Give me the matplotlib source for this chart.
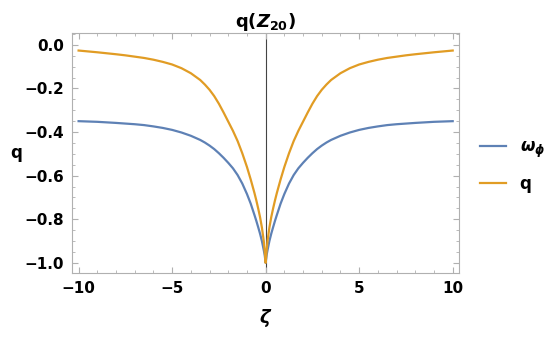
import numpy as np
import matplotlib
matplotlib.use("Agg")
import matplotlib.pyplot as plt
from matplotlib.ticker import MultipleLocator

plt.rcParams["mathtext.fontset"] = "custom"
plt.rcParams["mathtext.it"] = "DejaVu Sans:italic:bold"
plt.rcParams["mathtext.rm"] = "DejaVu Sans:bold"
plt.rcParams["mathtext.bf"] = "DejaVu Sans:bold"

# values (zeta >= 0 side; the curves are even)
zeta_half = [0, 0.05, 0.1, 0.2, 0.3, 0.4, 0.5, 0.6, 0.8, 1.0, 1.25, 1.5, 1.75, 2.0,
             2.25, 2.5, 2.75, 3.0, 3.25, 3.5, 4.0, 4.5, 5.0, 5.5, 6, 6.5, 7, 7.5,
             8, 9, 10]
omega_half = [-1.000, -0.965, -0.942, -0.900, -0.866, -0.836, -0.807, -0.780, -0.728,
              -0.684, -0.636, -0.597, -0.566, -0.541, -0.518, -0.497, -0.478, -0.462,
              -0.448, -0.436, -0.417, -0.402, -0.390, -0.381, -0.374, -0.368, -0.364,
              -0.361, -0.358, -0.353, -0.350]
q_half = [-1.000, -0.945, -0.900, -0.838, -0.790, -0.750, -0.713, -0.679, -0.617,
          -0.560, -0.497, -0.441, -0.394, -0.352, -0.310, -0.270, -0.235, -0.206,
          -0.182, -0.161, -0.130, -0.107, -0.090, -0.078, -0.068, -0.060, -0.054,
          -0.048, -0.043, -0.034, -0.026]

zeta = [-z for z in zeta_half[:0:-1]] + zeta_half
omega_phi = omega_half[:0:-1] + omega_half
q = q_half[:0:-1] + q_half

blue = "#5E81B5"
orange = "#E19C24"
frame = "#b0b0b0"

fig = plt.figure(figsize=(5.5, 3.39), dpi=100)
ax = fig.add_axes([0.131, 0.195, 0.704, 0.708])

ax.axvline(0, color="#444444", lw=0.8, zorder=1)
l1, = ax.plot(zeta, omega_phi, color=blue, lw=1.6, label=r"$\omega_\phi$", zorder=3)
l2, = ax.plot(zeta, q, color=orange, lw=1.6, label="q", zorder=3)

ax.set_xlim(-10.35, 10.35)
ax.set_ylim(-1.046, 0.055)
ax.xaxis.set_minor_locator(MultipleLocator(1))
ax.yaxis.set_minor_locator(MultipleLocator(0.05))
ax.tick_params(which="both", direction="in", top=True, right=True, color=frame)
ax.tick_params(which="major", length=4, width=0.8, labelsize=11, pad=6)
ax.tick_params(which="minor", length=2, width=0.6)
ax.set_xticks([-10, -5, 0, 5, 10])
ax.set_xticklabels(["\u221210", "\u22125", "0", "5", "10"], fontweight="bold")
ax.set_yticks([0.0, -0.2, -0.4, -0.6, -0.8, -1.0])
ax.set_yticklabels(["0.0", "\u22120.2", "\u22120.4", "\u22120.6", "\u22120.8", "\u22121.0"],
                   fontweight="bold")
for s in ax.spines.values():
    s.set_color(frame)
    s.set_linewidth(0.8)

ax.set_xlabel(r"$\zeta$", fontsize=13, labelpad=8)
ax.set_ylabel("q", fontsize=12, fontweight="bold", rotation=0, va="center")
ax.yaxis.set_label_coords(-0.145, 0.5)
ax.set_title(r"q($Z_{20}$)", fontsize=13, fontweight="bold", pad=4)

fig.legend(handles=[l1, l2], loc="center left", bbox_to_anchor=(0.845, 0.513),
           frameon=False, prop={"weight": "bold", "size": 12},
           handlelength=1.6, labelspacing=0.9)

fig.savefig("out.png", dpi=100)
